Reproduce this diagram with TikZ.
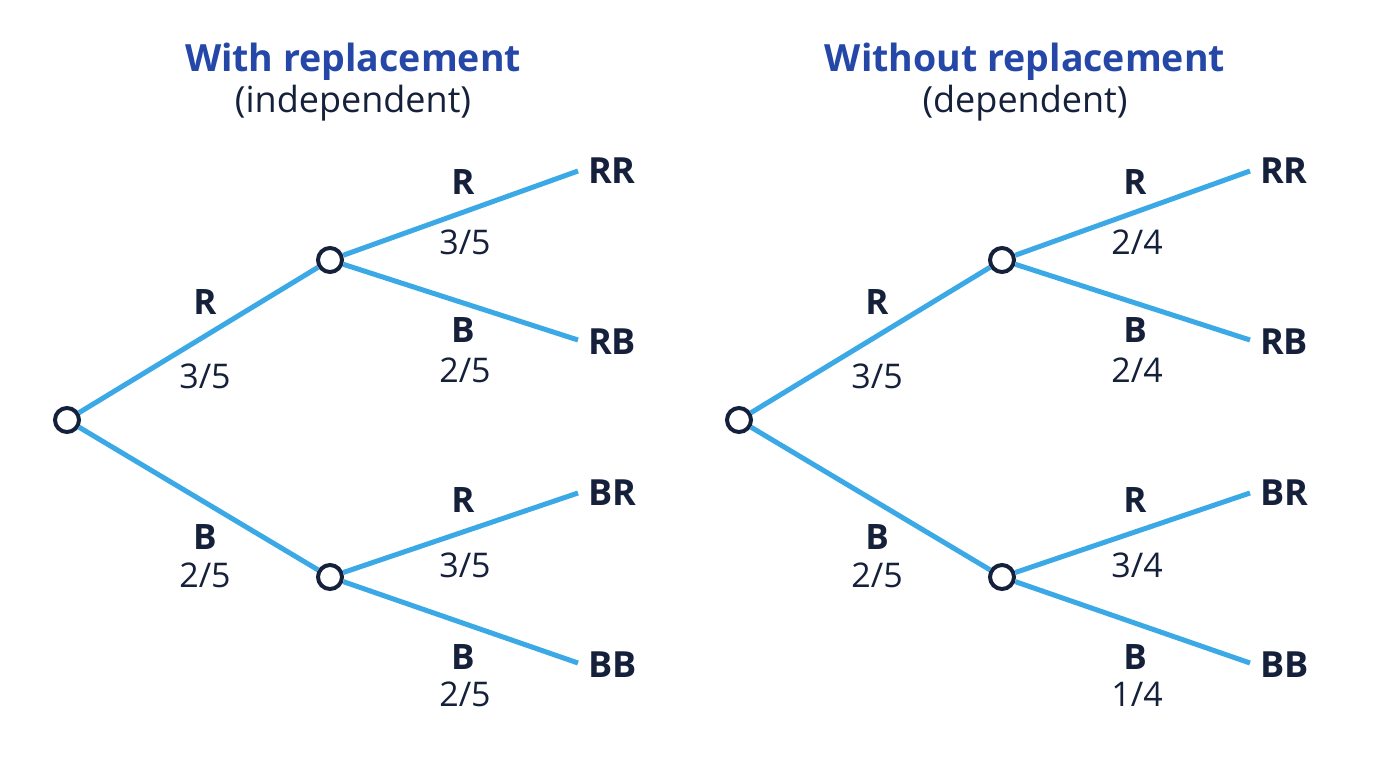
\documentclass[tikz,border=0pt]{standalone}
\usepackage{fontspec}
\setmainfont{Open Sans}
\definecolor{lb}{HTML}{3BA9E6}
\definecolor{dk}{HTML}{15203A}
\definecolor{tb}{HTML}{2447A8}
\begin{document}
\begin{tikzpicture}[x=1pt,y=-1pt,
  br/.style={draw=lb,line width=5pt},
  nd/.style={circle,draw=dk,fill=white,line width=4pt,minimum size=24pt,inner sep=0pt},
  lf/.style={inner sep=0pt,text=dk,font=\fontsize{36}{38}\selectfont\bfseries,anchor=west},
  lab/.style={inner sep=0pt,text=dk,font=\fontsize{35}{37}\selectfont\bfseries},
  pr/.style={inner sep=0pt,text=dk,font=\fontsize{34}{36}\selectfont},
  tt/.style={inner sep=0pt,text=tb,font=\fontsize{37.5}{40}\selectfont\bfseries},
  st/.style={inner sep=0pt,text=dk,font=\fontsize{36}{38}\selectfont}]
\useasboundingbox (0,0) rectangle (1376,768);
\foreach \o/\t/\s/\a/\b/\c/\d/\e/\f/\pre in {0/With replacement/independent/3/5/3/5/2/5/L,672/Without replacement/dependent/2/4/3/4/1/4/M}{
\node[tt] (t\pre) at (353+\o,62) {\t};
\node[st] (s\pre) at (353+\o,103) {(\s)};
\coordinate (rr\pre) at (578+\o,171);
\coordinate (rb\pre) at (578+\o,340);
\coordinate (bro\pre) at (578+\o,493);
\coordinate (bb\pre) at (578+\o,663);
\node[nd] (r\pre) at (67+\o,420) {};
\node[nd] (u\pre) at (330+\o,260) {};
\node[nd] (d\pre) at (330+\o,577) {};
\draw[br] (r\pre) -- (u\pre);
\draw[br] (r\pre) -- (d\pre);
\draw[br] (u\pre) -- (rr\pre);
\draw[br] (u\pre) -- (rb\pre);
\draw[br] (d\pre) -- (bro\pre);
\draw[br] (d\pre) -- (bb\pre);
\node[lf] (l1\pre) at (588+\o,171) {RR};
\node[lf] (l2\pre) at (588+\o,342) {RB};
\node[lf] (l3\pre) at (588+\o,493) {BR};
\node[lf] (l4\pre) at (588+\o,665) {BB};
\node[lab] (a1\pre) at (205+\o,302) {R};
\node[pr] (p1\pre) at (205+\o,376) {3/5};
\node[lab] (a2\pre) at (205+\o,537) {B};
\node[pr] (p2\pre) at (205+\o,575) {2/5};
\node[lab] (a3\pre) at (463+\o,182) {R};
\node[pr] (p3\pre) at (465+\o,242) {\a/\b};
\node[lab] (a4\pre) at (463+\o,330) {B};
\node[pr] (p4\pre) at (465+\o,370) {\pgfmathparse{int(\b-\a)}\pgfmathresult/\b};
\node[lab] (a5\pre) at (463+\o,500) {R};
\node[pr] (p5\pre) at (465+\o,565) {\c/\d};
\node[lab] (a6\pre) at (463+\o,657) {B};
\node[pr] (p6\pre) at (465+\o,694) {\e/\f};
}
\end{tikzpicture}
\end{document}
